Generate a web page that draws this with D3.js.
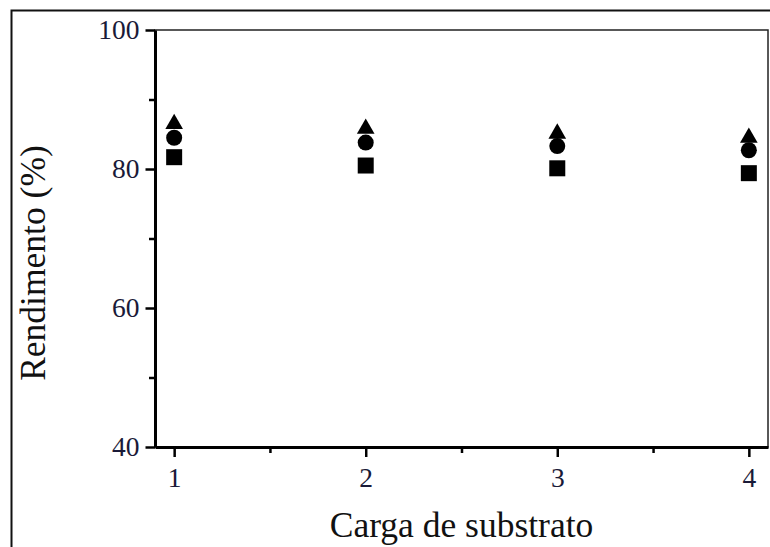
<!DOCTYPE html>
<html>
<head>
<meta charset="utf-8">
<script src="https://cdn.jsdelivr.net/npm/d3@7"></script>
<style>
  body { margin: 0; background: #fff; }
  svg { display: block; }
  .tick text { font-family: "Liberation Serif", "Times New Roman", serif; }
</style>
</head>
<body>
<div id="chart"></div>
<script>
// valores
var carga = [1, 2, 3, 4];
var quadrado = [81.7, 80.5, 80.1, 79.4];
var circulo = [84.5, 83.8, 83.3, 82.7];
var triangulo = [86.5, 85.8, 85.1, 84.5];
var yTicks = [40, 60, 80, 100];
var yMinor = [50, 70, 90];
var xMinor = [1.5, 2.5, 3.5];

var svgWidth = 770;
var svgHeight = 547;

var margin = { top: 30, right: 2, bottom: 100, left: 155 };
var width = 768 - margin.left;
var height = 447 - margin.top;

var svg = d3.select("#chart")
    .append("svg")
    .attr("width", svgWidth)
    .attr("height", svgHeight);

// moldura externa
svg.append("rect")
    .attr("x", 11.5)
    .attr("y", 10.5)
    .attr("width", 800)
    .attr("height", 600)
    .attr("fill", "none")
    .attr("stroke", "#111")
    .attr("stroke-width", 2);

var chartGroup = svg.append("g")
    .attr("transform", `translate(${margin.left}, ${margin.top})`);

var xScale = d3.scaleLinear().domain([0.9, 4.1]).range([0, width]);
var yScale = d3.scaleLinear().domain([40, 100]).range([height, 0]);

// borda do grafico
chartGroup.append("rect")
    .attr("width", width)
    .attr("height", height)
    .attr("fill", "none")
    .attr("stroke", "#222")
    .attr("stroke-width", 1.5);

// minor ticks
chartGroup.append("g")
    .attr("transform", `translate(0, ${height})`)
    .call(d3.axisBottom(xScale).tickValues(xMinor).tickSize(6).tickFormat(""))
    .call(g => g.select(".domain").remove())
    .selectAll("line").attr("stroke", "#000").attr("stroke-width", 2.5);

chartGroup.append("g")
    .call(d3.axisLeft(yScale).tickValues(yMinor).tickSize(6).tickFormat(""))
    .call(g => g.select(".domain").remove())
    .selectAll("line").attr("stroke", "#000").attr("stroke-width", 2.5);

// eixos principais
var bottomAxis = d3.axisBottom(xScale).tickValues(carga).tickFormat(d3.format("d"))
    .tickSize(10).tickSizeOuter(0).tickPadding(10);
var leftAxis = d3.axisLeft(yScale).tickValues(yTicks).tickFormat(d3.format("d"))
    .tickSize(9.5).tickSizeOuter(0).tickPadding(6);

var xg = chartGroup.append("g")
    .attr("transform", `translate(0, ${height})`)
    .call(bottomAxis);

var yg = chartGroup.append("g")
    .call(leftAxis);

[xg, yg].forEach(function(g) {
    g.select(".domain").attr("stroke", "#000").attr("stroke-width", 3);
    g.selectAll(".tick line").attr("stroke", "#000").attr("stroke-width", 2.5);
    g.selectAll(".tick text")
        .attr("font-size", "27.5px")
        .attr("fill", "#1a1a38");
});

// pontos
var series = [
    { values: quadrado, symbol: d3.symbolSquare, size: 256 },
    { values: triangulo, symbol: d3.symbolTriangle, size: 135 },
    { values: circulo, symbol: d3.symbolCircle, size: 201 }
];

series.forEach(function(s) {
    chartGroup.append("g")
        .selectAll("path")
        .data(carga)
        .enter()
        .append("path")
        .attr("d", d3.symbol().type(s.symbol).size(s.size))
        .attr("transform", (d, i) => `translate(${xScale(d)}, ${yScale(s.values[i])})`)
        .attr("fill", "#000");
});

// titulos dos eixos
svg.append("text")
    .attr("x", 461.5)
    .attr("y", 536.5)
    .attr("text-anchor", "middle")
    .attr("font-family", "Liberation Serif, Times New Roman, serif")
    .attr("font-size", "35.5px")
    .attr("fill", "#111")
    .text("Carga de substrato");

svg.append("text")
    .attr("transform", "translate(45, 263) rotate(-90)")
    .attr("text-anchor", "middle")
    .attr("font-family", "Liberation Serif, Times New Roman, serif")
    .attr("font-size", "35.5px")
    .attr("fill", "#111")
    .text("Rendimento (%)");
</script>
</body>
</html>
